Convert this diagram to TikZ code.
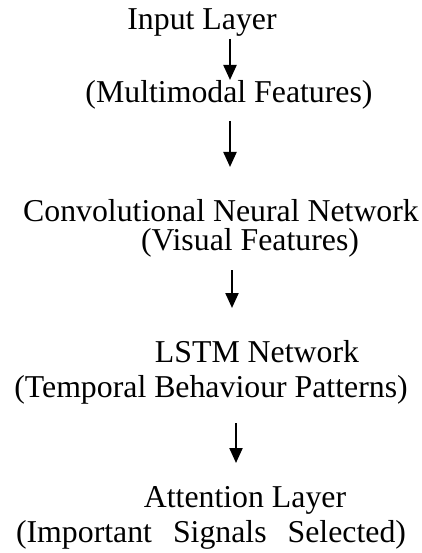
\documentclass[tikz,border=0pt]{standalone}
\usepackage{fontspec}
\setmainfont{Liberation Serif}
\usetikzlibrary{arrows.meta}
\begin{document}
\begin{tikzpicture}[x=1pt,y=-1pt,
  lbl/.style={anchor=base,inner sep=0pt,font=\fontsize{31.8}{36}\selectfont},
  flow/.style={line width=2.2pt,-{Triangle[width=13pt,length=15pt]}}]
\useasboundingbox (0,0) rectangle (422,553);
\node[lbl] (n1) at (202,30) {Input Layer};
\node[lbl] (n2) at (229,103) {(Multimodal Features)};
\node[lbl] (n3) at (221,221) {Convolutional Neural Network};
\node[lbl] (n4) at (250,250) {(Visual Features)};
\node[lbl] (n5) at (257,362) {LSTM Network};
\node[lbl] (n6) at (211,397) {(Temporal Behaviour Patterns)};
\node[lbl] (n7) at (245,507) {Attention Layer};
\node[lbl] (n8) at (211,542) {(Important\hspace{21pt}Signals\hspace{21pt}Selected)};
\coordinate (a1s) at (230,39);
\coordinate (a1e) at (230,80);
\coordinate (a2s) at (230,121);
\coordinate (a2e) at (230,167);
\coordinate (a3s) at (232,270);
\coordinate (a3e) at (232,308);
\coordinate (a4s) at (236,423);
\coordinate (a4e) at (236,463);
\draw[flow] (a1s) -- (a1e);
\draw[flow] (a2s) -- (a2e);
\draw[flow] (a3s) -- (a3e);
\draw[flow] (a4s) -- (a4e);
\end{tikzpicture}
\end{document}
